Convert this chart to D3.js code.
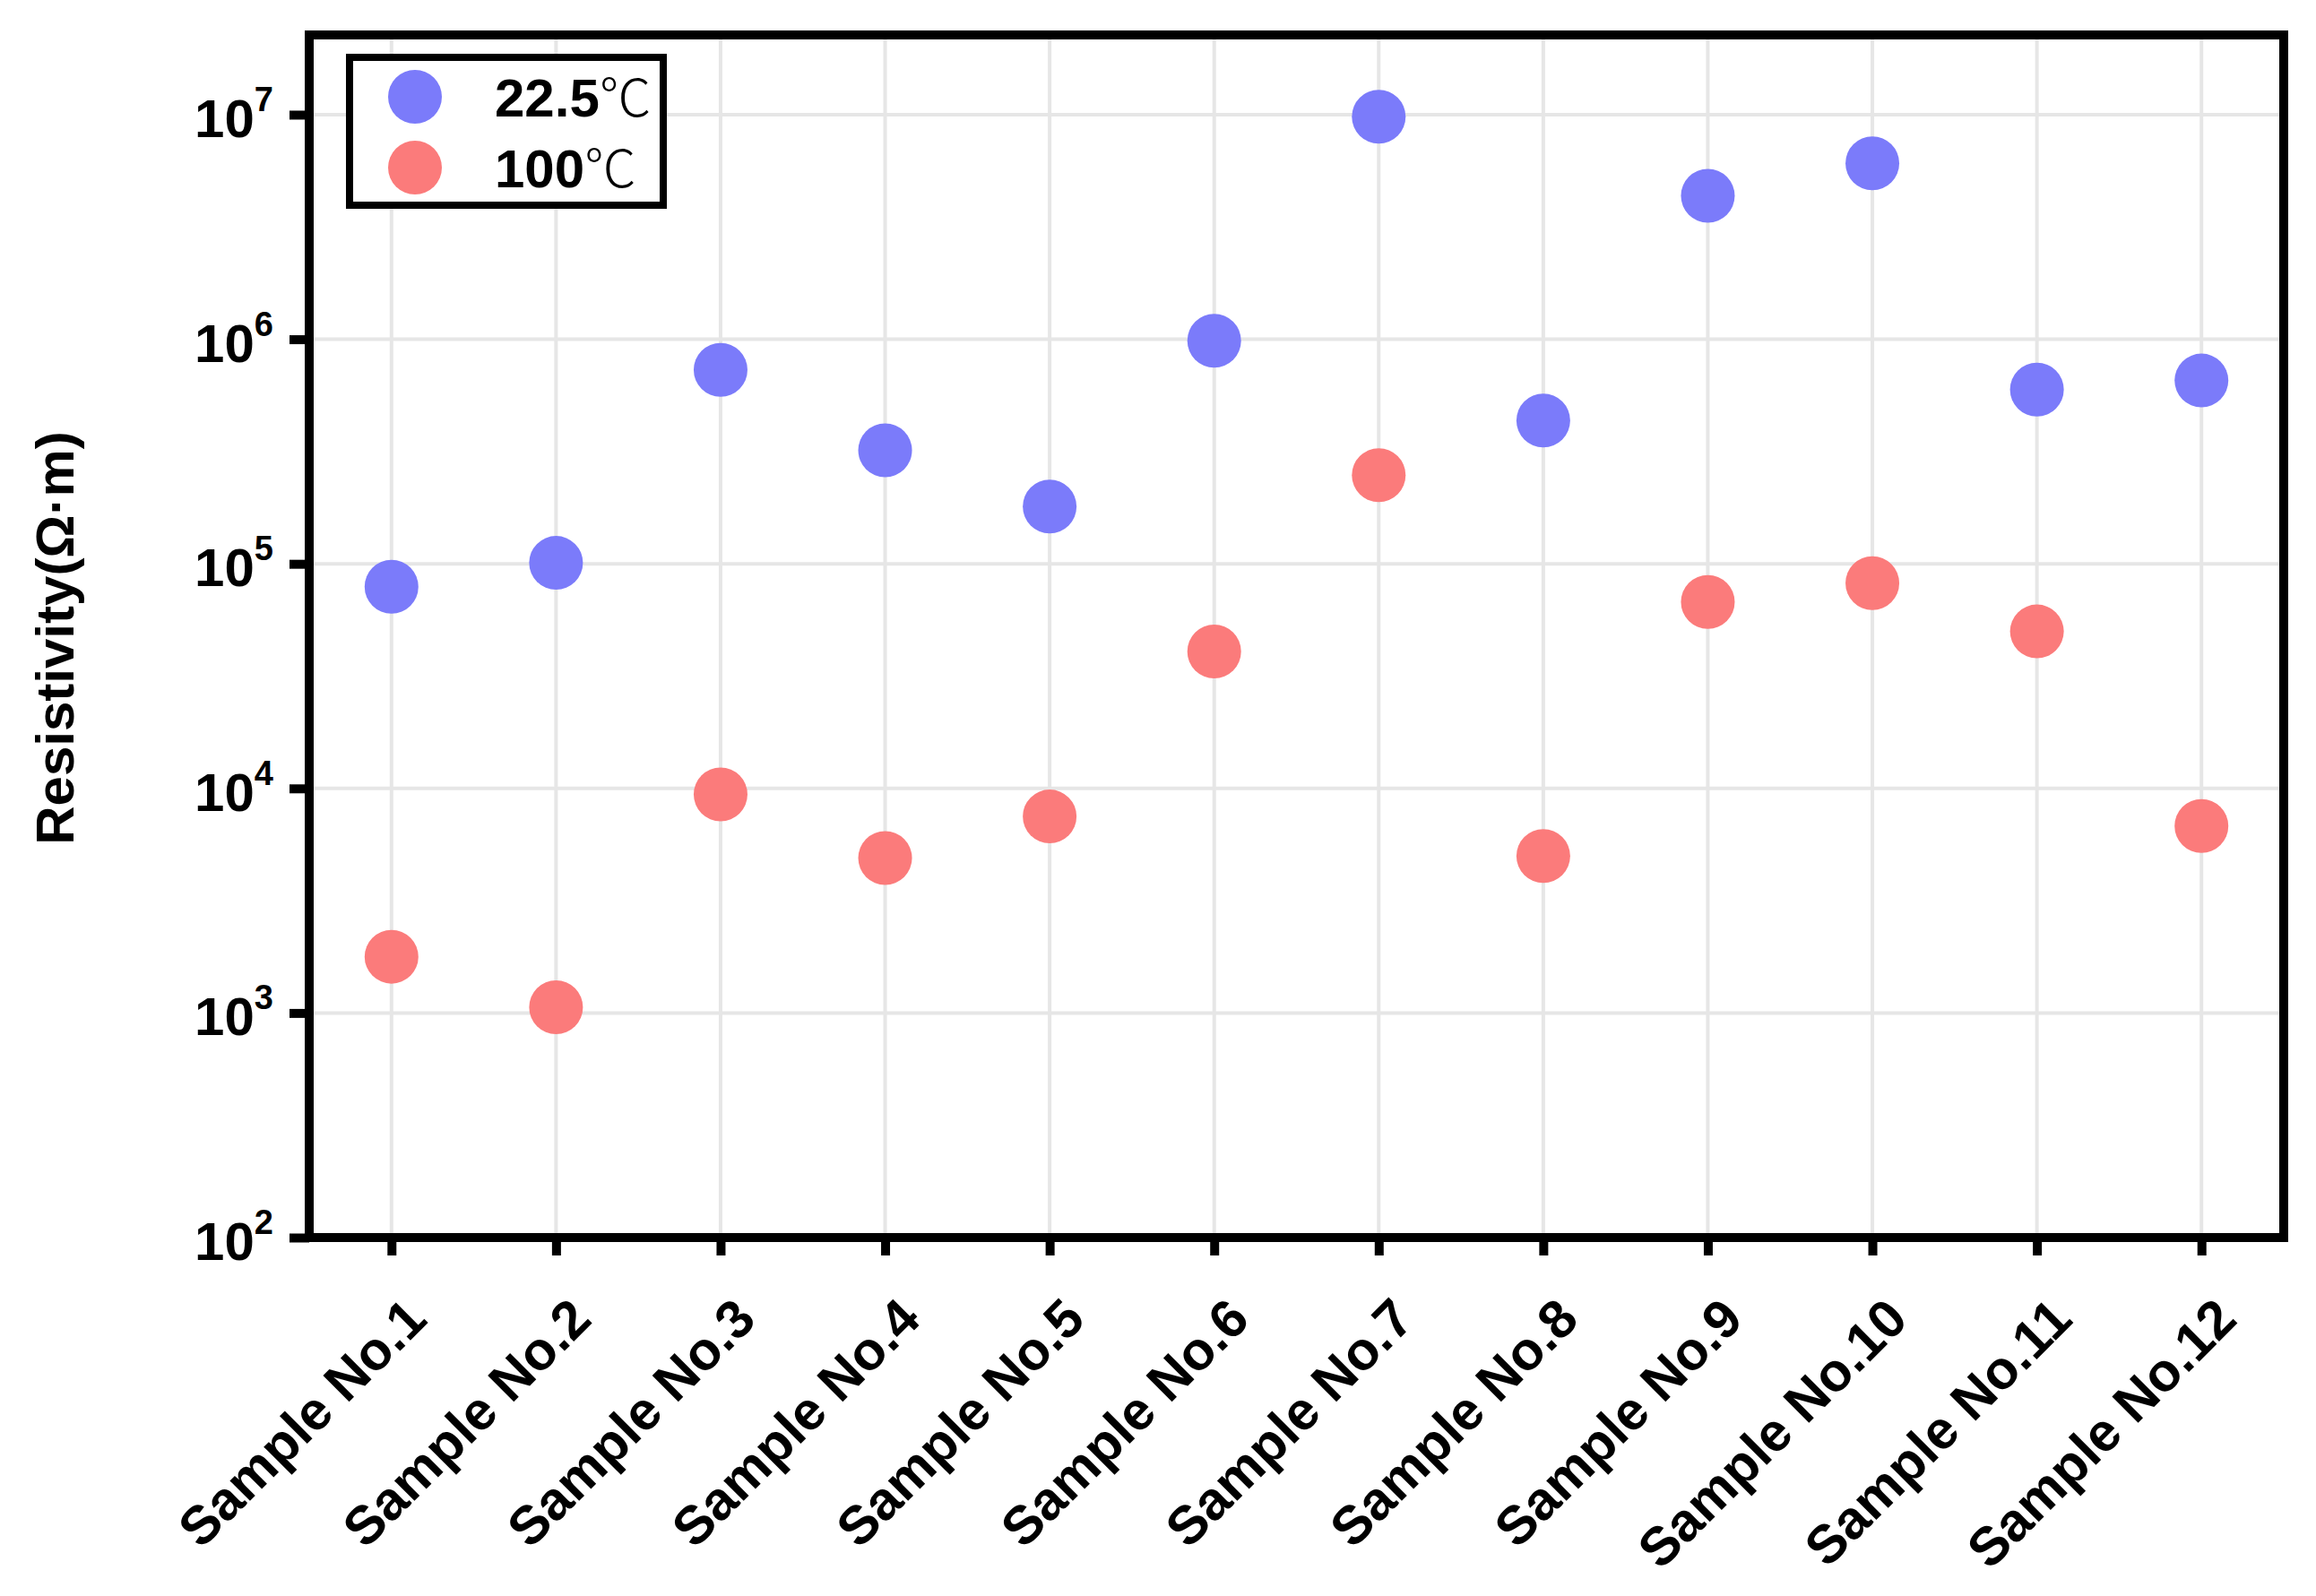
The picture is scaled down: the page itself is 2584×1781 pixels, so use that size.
<!DOCTYPE html>
<html>
<head>
<meta charset="utf-8">
<script src="https://cdn.jsdelivr.net/npm/d3@7"></script>
<style>
  body { margin: 0; background: #fff; }
  svg { display: block; }
</style>
</head>
<body>
<svg id="chart" width="2584" height="1781"></svg>
<script>
// Données
const samples = ['Sample No.1', 'Sample No.2', 'Sample No.3', 'Sample No.4', 'Sample No.5', 'Sample No.6',
	'Sample No.7', 'Sample No.8', 'Sample No.9', 'Sample No.10', 'Sample No.11', 'Sample No.12'];
const rho22 = [7.9e4, 1.01e5, 7.3e5, 3.2e5, 1.8e5, 9.85e5, 9.8e6, 4.35e5, 4.35e6, 6.07e6, 5.97e5, 6.55e5];
const rho100 = [1.78e3, 1.06e3, 9.4e3, 4.9e3, 7.5e3, 4.07e4, 2.48e5, 5.0e3, 6.76e4, 8.2e4, 5.0e4, 6.8e3];
const yTicks = [1e2, 1e3, 1e4, 1e5, 1e6, 1e7];
const seriesNames = ['22.5', '100'];
const seriesColors = ['#7b7bfa', '#fb7b7b'];

const svg = d3.select('#chart');

const plotLeft = 345, plotRight = 2548, plotTop = 39, plotBottom = 1381;

const x = d3.scalePoint().domain(samples).range([plotLeft, plotRight]).padding(0.5);
const y = d3.scaleLog().domain([100, Math.pow(10, 7.355)]).range([plotBottom, plotTop]);

// Grille
svg.append('g')
	.selectAll('line')
	.data(samples)
	.join('line')
	.attr('x1', (d) => x(d)).attr('x2', (d) => x(d))
	.attr('y1', plotTop).attr('y2', plotBottom)
	.attr('stroke', '#e6e6e6').attr('stroke-width', 4);

svg.append('g')
	.selectAll('line')
	.data(yTicks.slice(1))
	.join('line')
	.attr('x1', plotLeft).attr('x2', plotRight)
	.attr('y1', (d) => y(d)).attr('y2', (d) => y(d))
	.attr('stroke', '#e6e6e6').attr('stroke-width', 4);

// Axe X
const xAxis = svg.append('g')
	.attr('transform', `translate(0,${plotBottom})`)
	.call(d3.axisBottom(x).tickSize(20).tickFormat(''));
xAxis.select('.domain').remove();
xAxis.selectAll('.tick line').attr('stroke', '#000').attr('stroke-width', 10);

svg.append('g')
	.selectAll('text')
	.data(samples)
	.join('text')
	.attr('transform', (d) => `translate(${x(d) + 42},${plotBottom + 94}) rotate(-45)`)
	.attr('text-anchor', 'end')
	.attr('font-family', 'Liberation Sans, Arial, sans-serif')
	.attr('font-weight', 'bold')
	.attr('font-size', 60)
	.text((d) => d);

// Axe Y
const yAxis = svg.append('g')
	.attr('transform', `translate(${plotLeft},0)`)
	.call(d3.axisLeft(y).tickValues(yTicks).tickSize(22).tickFormat(''));
yAxis.select('.domain').remove();
yAxis.selectAll('.tick line').attr('stroke', '#000').attr('stroke-width', 10);

const yLab = svg.append('g')
	.selectAll('text')
	.data(yTicks)
	.join('text')
	.attr('x', 305)
	.attr('y', (d) => y(d) + 25)
	.attr('text-anchor', 'end')
	.attr('font-family', 'Liberation Sans Narrow, Liberation Sans, Arial, sans-serif')
	.attr('font-weight', 'bold')
	.attr('font-size', 60);
yLab.append('tspan').text('10');
yLab.append('tspan')
	.attr('dy', -29)
	.attr('font-size', 38)
	.text((d) => Math.round(Math.log10(d)));

svg.append('text')
	.attr('transform', 'translate(82,712) rotate(-90)')
	.attr('text-anchor', 'middle')
	.attr('font-family', 'Liberation Sans, Arial, sans-serif')
	.attr('font-weight', 'bold')
	.attr('font-size', 60)
	.text('Resistivity(Ω·m)');

// Points
const series = [rho22, rho100];
series.forEach((vals, i) => {
	svg.append('g')
		.selectAll('circle')
		.data(vals)
		.join('circle')
		.attr('cx', (d, j) => x(samples[j]))
		.attr('cy', (d) => y(d))
		.attr('r', 30)
		.attr('fill', seriesColors[i]);
});

// Cadre
svg.append('rect')
	.attr('x', plotLeft).attr('y', plotTop)
	.attr('width', plotRight - plotLeft).attr('height', plotBottom - plotTop)
	.attr('fill', 'none').attr('stroke', '#000').attr('stroke-width', 10);

// Légende
const legend = svg.append('g');
legend.append('rect')
	.attr('x', 390).attr('y', 64).attr('width', 350).attr('height', 165)
	.attr('fill', '#fff').attr('stroke', '#000').attr('stroke-width', 8);

const items = legend.selectAll('g.item')
	.data(seriesNames)
	.join('g')
	.attr('transform', (d, i) => `translate(0,${108 + i * 79})`);
items.append('circle')
	.attr('cx', 463).attr('cy', 0).attr('r', 30)
	.attr('fill', (d, i) => seriesColors[i]);
const lt = items.append('text')
	.attr('x', 552).attr('y', 22)
	.attr('font-family', 'Liberation Sans, Arial, sans-serif')
	.attr('font-size', 60);
lt.append('tspan').attr('font-weight', 'bold').text((d) => d);
lt.append('tspan')
	.attr('font-family', 'Noto Sans CJK SC, sans-serif')
	.attr('font-weight', 300)
	.attr('font-size', 58)
	.text('℃');
</script>
</body>
</html>
